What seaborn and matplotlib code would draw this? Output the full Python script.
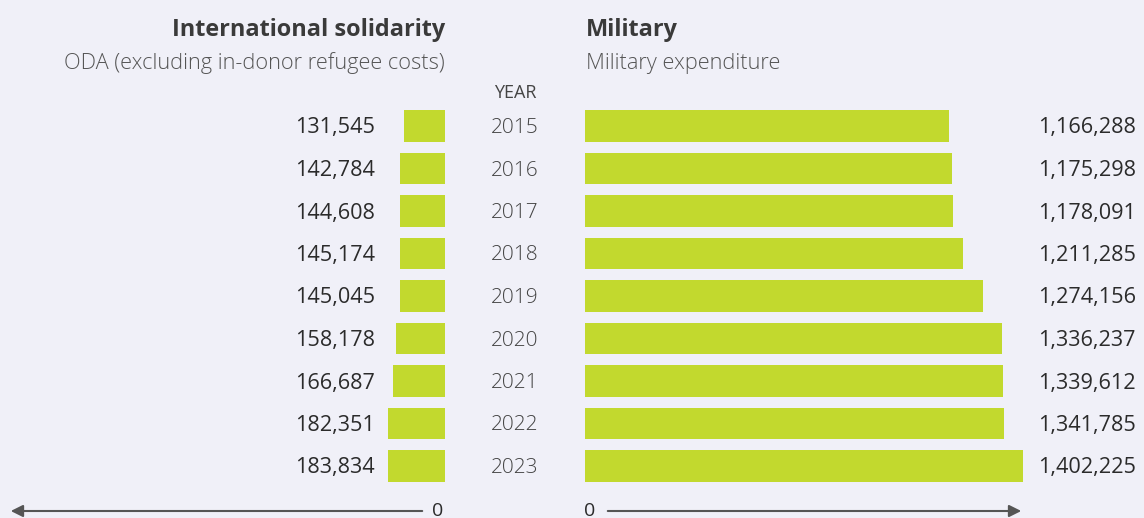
import numpy as np
import pandas as pd
import matplotlib.pyplot as plt
import matplotlib.transforms as mtransforms
from matplotlib.patches import FancyArrowPatch
import seaborn as sns

# data
years = ['2015', '2016', '2017', '2018', '2019', '2020', '2021', '2022', '2023']
oda = [131545, 142784, 144608, 145174, 145045, 158178, 166687, 182351, 183834]
military = [1166288, 1175298, 1178091, 1211285, 1274156, 1336237, 1339612, 1341785, 1402225]

df = pd.DataFrame({'year': years, 'oda': oda, 'military': military})

BG = '#f0f0f8'
BAR = '#c2d92e'
DARK = '#2b2b2b'
GREY = '#555555'

sns.set_theme(style='white')
plt.rcParams['font.family'] = ['Open Sans', 'DejaVu Sans']

W, H = 1144, 518
fig = plt.figure(figsize=(W / 100, H / 100), dpi=100, facecolor=BG)

def fx(px):
    return px / W

def fy(py):
    return 1 - py / H

top, bot = 104.75, 487.25
px_per_unit = 440 / 1410000

ax_l = fig.add_axes([fx(10), fy(bot), fx(435), (bot - top) / H])
ax_r = fig.add_axes([fx(585), fy(bot), fx(440), (bot - top) / H])

sns.barplot(data=df, y='year', x='oda', orient='h', color=BAR, width=0.73,
            saturation=1, linewidth=0, ax=ax_l)
sns.barplot(data=df, y='year', x='military', orient='h', color=BAR, width=0.73,
            saturation=1, linewidth=0, ax=ax_r)

ax_l.set_xlim(435 / px_per_unit, 0)
ax_r.set_xlim(0, 440 / px_per_unit)

for ax in (ax_l, ax_r):
    ax.set_facecolor(BG)
    ax.set_xlabel('')
    ax.set_ylabel('')
    ax.set_xticks([])
    ax.set_yticks([])
    for s in ax.spines.values():
        s.set_visible(False)

# value labels and years (small downward nudge so glyphs sit centred on bars)
nudge = mtransforms.ScaledTranslation(0, -2 / 100, fig.dpi_scale_trans)
tl = mtransforms.blended_transform_factory(fig.transFigure, ax_l.transData) + nudge
tr = mtransforms.blended_transform_factory(fig.transFigure, ax_r.transData) + nudge
for i, (y, a, m) in enumerate(zip(years, oda, military)):
    ax_l.text(fx(375), i, f'{a:,}', transform=tl, ha='right', va='center',
              fontsize=15.6, color=DARK)
    ax_r.text(fx(1136), i, f'{m:,}', transform=tr, ha='right', va='center',
              fontsize=15.6, color=DARK)
    ax_l.text(fx(515), i, y, transform=tl, ha='center', va='center',
              fontsize=15, color='#444444', fontweight='light')

fig.text(fx(515), fy(93), 'YEAR', ha='center', va='center', fontsize=13, color='#444444')

# titles
fig.text(fx(445), fy(30), 'International solidarity', ha='right', va='center',
         fontsize=16.9, fontweight='bold', color='#3a3a3a')
fig.text(fx(445), fy(63), 'ODA (excluding in-donor refugee costs)', ha='right', va='center',
         fontsize=15.7, fontweight='light', color=GREY)
fig.text(fx(586), fy(30), 'Military', ha='left', va='center',
         fontsize=16.9, fontweight='bold', color='#3a3a3a')
fig.text(fx(586), fy(63), 'Military expenditure', ha='left', va='center',
         fontsize=15.7, fontweight='light', color=GREY)

# axis arrows
arrow = dict(arrowstyle='-|>', color='#555555', lw=1.5, mutation_scale=18)
fig.add_artist(FancyArrowPatch((fx(425), fy(511)), (fx(8), fy(511)),
                               transform=fig.transFigure, **arrow))
fig.add_artist(FancyArrowPatch((fx(605), fy(511)), (fx(1024), fy(511)),
                               transform=fig.transFigure, **arrow))
fig.text(fx(438), fy(511), '0', ha='center', va='center', fontsize=14, color=DARK)
fig.text(fx(590), fy(511), '0', ha='center', va='center', fontsize=14, color=DARK)

fig.savefig('out.png', dpi=100, facecolor=BG)
